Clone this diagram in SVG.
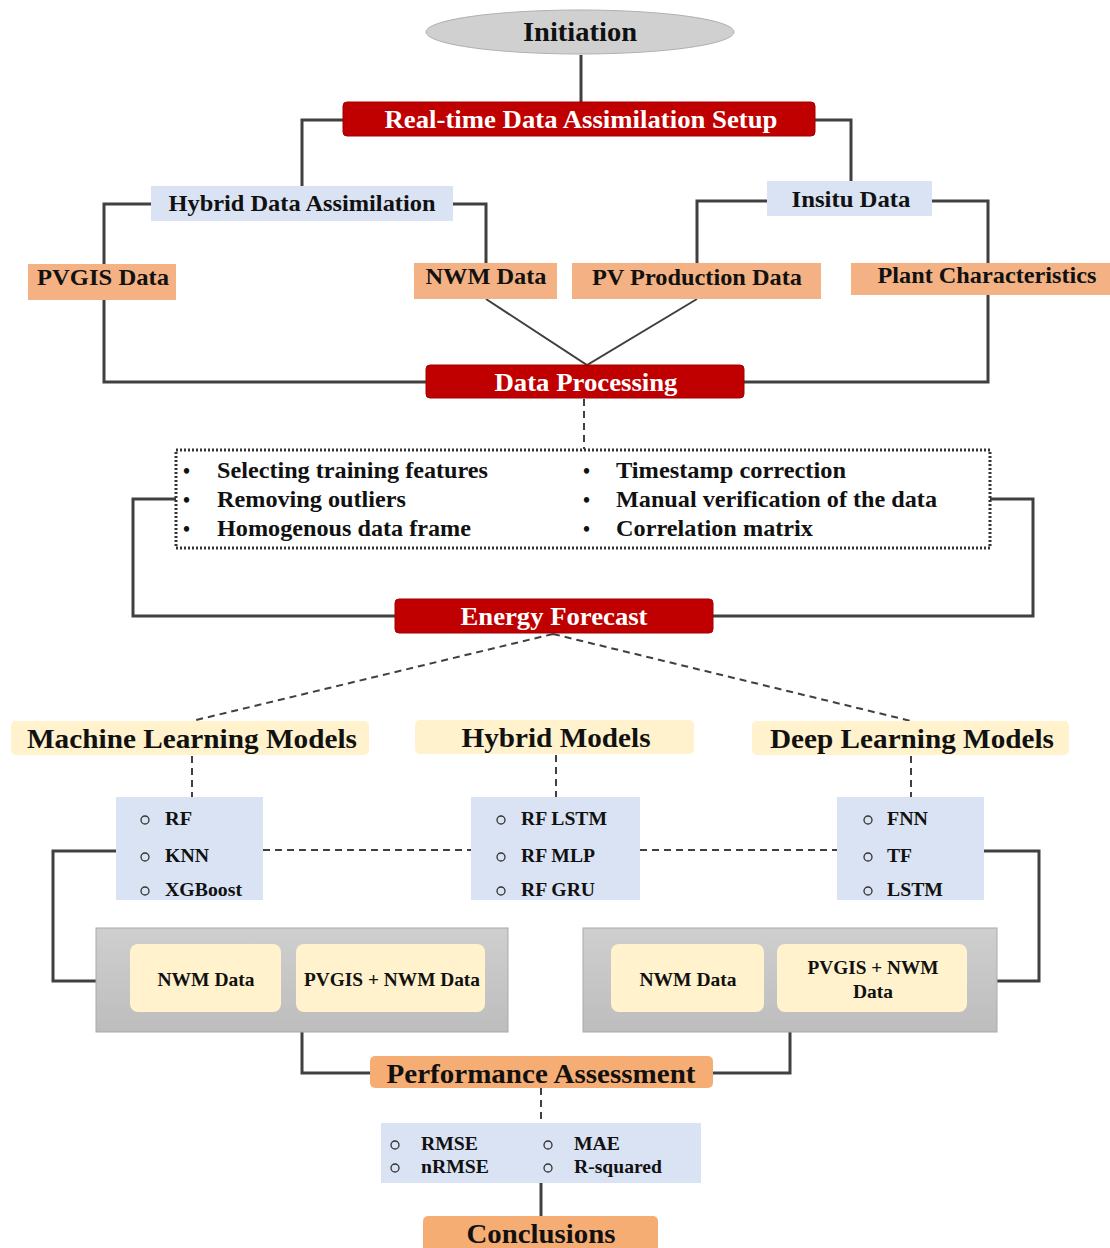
<svg xmlns="http://www.w3.org/2000/svg" width="1110" height="1248" viewBox="0 0 1110 1248">
<style>
text{font-family:"Liberation Serif","Times New Roman",serif;font-weight:bold;fill:#111}
.w{fill:#fff}
.red{fill:#c00000;stroke:#a00000;stroke-width:1}
.org{fill:#f4b183}
.org2{fill:#f6ad74}
.blu{fill:#dae3f3}
.crm{fill:#fff2cc}
.ln{fill:none;stroke:#404040;stroke-width:3}
.ln2{fill:none;stroke:#404040;stroke-width:2}
.dash{fill:none;stroke:#404040;stroke-width:2;stroke-dasharray:7,5}
.cb{fill:none;stroke:#333;stroke-width:1.3}
</style>
<defs>
<linearGradient id="gr" x1="0" y1="0" x2="0" y2="1">
<stop offset="0" stop-color="#cfcfcf"/><stop offset="1" stop-color="#bdbdbd"/>
</linearGradient>
</defs>
<g id="connectors">
<path class="ln" d="M581,55V102"/>
<path class="ln" d="M343,120H302V186"/>
<path class="ln" d="M815,120H851V181"/>
<path class="ln" d="M151,204H104V264"/>
<path class="ln" d="M453,204H486V263"/>
<path class="ln" d="M104,300V382H426"/>
<path class="ln" d="M767,201H697V263"/>
<path class="ln" d="M932,201H988V263"/>
<path class="ln" d="M988,295V382H744"/>
<path class="ln2" d="M486,299L587,365L697,299"/>
<path class="dash" d="M584,399V449" stroke-dasharray="6,5"/>
<path class="ln" d="M176,499H133V616H395"/>
<path class="ln" d="M990,499H1033V616H713"/>
<path class="dash" d="M553,634L192,721M553,634L911,721"/>
<path class="dash" d="M192,756V797M556,755V797M911,756V797"/>
<path class="dash" d="M263,850H471M640,850H837"/>
<path class="ln" d="M116,851H53V981H96"/>
<path class="ln" d="M984,851H1039V981H997"/>
<path class="ln" d="M302,1032V1073H370"/>
<path class="ln" d="M790,1032V1073H713"/>
<path class="dash" d="M541,1088V1123"/>
<path class="ln" d="M541,1183V1216"/>
</g>
<g id="initiation">
<ellipse cx="580" cy="32" rx="154" ry="22" fill="#d0d0d0" stroke="#b0b0b0" stroke-width="1"/>
<text x="580" y="41" text-anchor="middle" font-size="28" textLength="114" lengthAdjust="spacingAndGlyphs">Initiation</text>
</g>
<g id="realtime">
<rect class="red" x="343" y="102" width="472" height="34" rx="4"/>
<text class="w" x="581" y="128" text-anchor="middle" font-size="25" textLength="393" lengthAdjust="spacingAndGlyphs">Real-time Data Assimilation Setup</text>
</g>
<g id="hybridDA">
<rect class="blu" x="151" y="186" width="302" height="35"/>
<text x="302" y="211" text-anchor="middle" font-size="23" textLength="267" lengthAdjust="spacingAndGlyphs">Hybrid Data Assimilation</text>
</g>
<g id="insitu">
<rect class="blu" x="767" y="181" width="165" height="35"/>
<text x="851" y="207" text-anchor="middle" font-size="23" textLength="119" lengthAdjust="spacingAndGlyphs">Insitu Data</text>
</g>
<g id="pvgis">
<rect class="org" x="28" y="264" width="148" height="36"/>
<text x="103" y="285" text-anchor="middle" font-size="23" textLength="132" lengthAdjust="spacingAndGlyphs">PVGIS Data</text>
</g>
<g id="nwm">
<rect class="org" x="414" y="263" width="143" height="36"/>
<text x="486" y="284" text-anchor="middle" font-size="23" textLength="121" lengthAdjust="spacingAndGlyphs">NWM Data</text>
</g>
<g id="pvprod">
<rect class="org" x="572" y="263" width="249" height="36"/>
<text x="697" y="285" text-anchor="middle" font-size="23" textLength="210" lengthAdjust="spacingAndGlyphs">PV Production Data</text>
</g>
<g id="plant">
<rect class="org" x="851" y="263" width="259" height="32"/>
<text x="987" y="283" text-anchor="middle" font-size="23" textLength="219" lengthAdjust="spacingAndGlyphs">Plant Characteristics</text>
</g>
<g id="dataproc">
<rect class="red" x="426" y="365" width="318" height="33" rx="4"/>
<text class="w" x="586" y="391" text-anchor="middle" font-size="25" textLength="183" lengthAdjust="spacingAndGlyphs">Data Processing</text>
</g>
<g id="steps">
<rect x="176" y="450" width="814" height="98" fill="#fff" stroke="#333" stroke-width="3" stroke-dasharray="2,2"/>
<g font-size="23">
<text x="183" y="478" font-size="20">•</text>
<text x="183" y="507" font-size="20">•</text>
<text x="183" y="536" font-size="20">•</text>
<text x="583" y="478" font-size="20">•</text>
<text x="583" y="507" font-size="20">•</text>
<text x="583" y="536" font-size="20">•</text>
<text x="217" y="478" textLength="271" lengthAdjust="spacingAndGlyphs">Selecting training features</text>
<text x="217" y="507" textLength="189" lengthAdjust="spacingAndGlyphs">Removing outliers</text>
<text x="217" y="536" textLength="254" lengthAdjust="spacingAndGlyphs">Homogenous data frame</text>
<text x="616" y="478" textLength="230" lengthAdjust="spacingAndGlyphs">Timestamp correction</text>
<text x="616" y="507" textLength="321" lengthAdjust="spacingAndGlyphs">Manual verification of the data</text>
<text x="616" y="536" textLength="197" lengthAdjust="spacingAndGlyphs">Correlation matrix</text>
</g>
</g>
<g id="energy">
<rect class="red" x="395" y="599" width="318" height="34" rx="4"/>
<text class="w" x="554" y="625" text-anchor="middle" font-size="25" textLength="187" lengthAdjust="spacingAndGlyphs">Energy Forecast</text>
</g>
<g id="mlmodels">
<rect class="crm" x="11" y="721" width="358" height="34" rx="5"/>
<text x="192" y="748" text-anchor="middle" font-size="28" textLength="330" lengthAdjust="spacingAndGlyphs">Machine Learning Models</text>
</g>
<g id="hybridmodels">
<rect class="crm" x="415" y="720" width="279" height="34" rx="5"/>
<text x="556" y="747" text-anchor="middle" font-size="28" textLength="189" lengthAdjust="spacingAndGlyphs">Hybrid Models</text>
</g>
<g id="dlmodels">
<rect class="crm" x="752" y="721" width="317" height="34" rx="5"/>
<text x="912" y="748" text-anchor="middle" font-size="28" textLength="284" lengthAdjust="spacingAndGlyphs">Deep Learning Models</text>
</g>
<g id="mllist" font-size="19">
<rect class="blu" x="116" y="797" width="147" height="103"/>
<circle class="cb" cx="145" cy="820" r="4"/><circle class="cb" cx="145" cy="857" r="4"/><circle class="cb" cx="145" cy="891" r="4"/>
<text x="165" y="825" textLength="27" lengthAdjust="spacingAndGlyphs">RF</text>
<text x="165" y="862" textLength="44" lengthAdjust="spacingAndGlyphs">KNN</text>
<text x="165" y="896" textLength="77" lengthAdjust="spacingAndGlyphs">XGBoost</text>
</g>
<g id="hyblist" font-size="19">
<rect class="blu" x="471" y="797" width="169" height="103"/>
<circle class="cb" cx="501" cy="820" r="4"/><circle class="cb" cx="501" cy="857" r="4"/><circle class="cb" cx="501" cy="891" r="4"/>
<text x="521" y="825" textLength="86" lengthAdjust="spacingAndGlyphs">RF LSTM</text>
<text x="521" y="862" textLength="74" lengthAdjust="spacingAndGlyphs">RF MLP</text>
<text x="521" y="896" textLength="74" lengthAdjust="spacingAndGlyphs">RF GRU</text>
</g>
<g id="dllist" font-size="19">
<rect class="blu" x="837" y="797" width="147" height="103"/>
<circle class="cb" cx="868" cy="820" r="4"/><circle class="cb" cx="868" cy="857" r="4"/><circle class="cb" cx="868" cy="891" r="4"/>
<text x="887" y="825" textLength="41" lengthAdjust="spacingAndGlyphs">FNN</text>
<text x="887" y="862" textLength="25" lengthAdjust="spacingAndGlyphs">TF</text>
<text x="887" y="896" textLength="56" lengthAdjust="spacingAndGlyphs">LSTM</text>
</g>
<g id="mldata">
<rect x="96" y="928" width="412" height="104" fill="url(#gr)" stroke="#aaa" stroke-width="1"/>
<rect class="crm" x="130" y="944" width="151" height="68" rx="8"/>
<rect class="crm" x="296" y="944" width="189" height="68" rx="8"/>
<text x="206" y="986" text-anchor="middle" font-size="19" textLength="97" lengthAdjust="spacingAndGlyphs">NWM Data</text>
<text x="392" y="986" text-anchor="middle" font-size="19" textLength="176" lengthAdjust="spacingAndGlyphs">PVGIS + NWM Data</text>
</g>
<g id="dldata">
<rect x="583" y="928" width="414" height="104" fill="url(#gr)" stroke="#aaa" stroke-width="1"/>
<rect class="crm" x="611" y="944" width="153" height="68" rx="8"/>
<rect class="crm" x="777" y="944" width="190" height="68" rx="8"/>
<text x="688" y="986" text-anchor="middle" font-size="19" textLength="97" lengthAdjust="spacingAndGlyphs">NWM Data</text>
<text x="873" y="974" text-anchor="middle" font-size="19" textLength="131" lengthAdjust="spacingAndGlyphs">PVGIS + NWM</text>
<text x="873" y="998" text-anchor="middle" font-size="19" textLength="40" lengthAdjust="spacingAndGlyphs">Data</text>
</g>
<g id="perf">
<rect class="org2" x="370" y="1056" width="343" height="32" rx="5"/>
<text x="541" y="1083" text-anchor="middle" font-size="28" textLength="309" lengthAdjust="spacingAndGlyphs">Performance Assessment</text>
</g>
<g id="metrics" font-size="19">
<rect class="blu" x="381" y="1123" width="320" height="60"/>
<circle class="cb" cx="395" cy="1145" r="4"/><circle class="cb" cx="395" cy="1168" r="4"/>
<circle class="cb" cx="548" cy="1145" r="4"/><circle class="cb" cx="548" cy="1168" r="4"/>
<text x="421" y="1150" textLength="57" lengthAdjust="spacingAndGlyphs">RMSE</text>
<text x="421" y="1173" textLength="68" lengthAdjust="spacingAndGlyphs">nRMSE</text>
<text x="574" y="1150" textLength="46" lengthAdjust="spacingAndGlyphs">MAE</text>
<text x="574" y="1173" textLength="88" lengthAdjust="spacingAndGlyphs">R-squared</text>
</g>
<g id="conclusions">
<rect class="org2" x="423" y="1216" width="235" height="40" rx="5"/>
<text x="541" y="1243" text-anchor="middle" font-size="28" textLength="149" lengthAdjust="spacingAndGlyphs">Conclusions</text>
</g>
</svg>
